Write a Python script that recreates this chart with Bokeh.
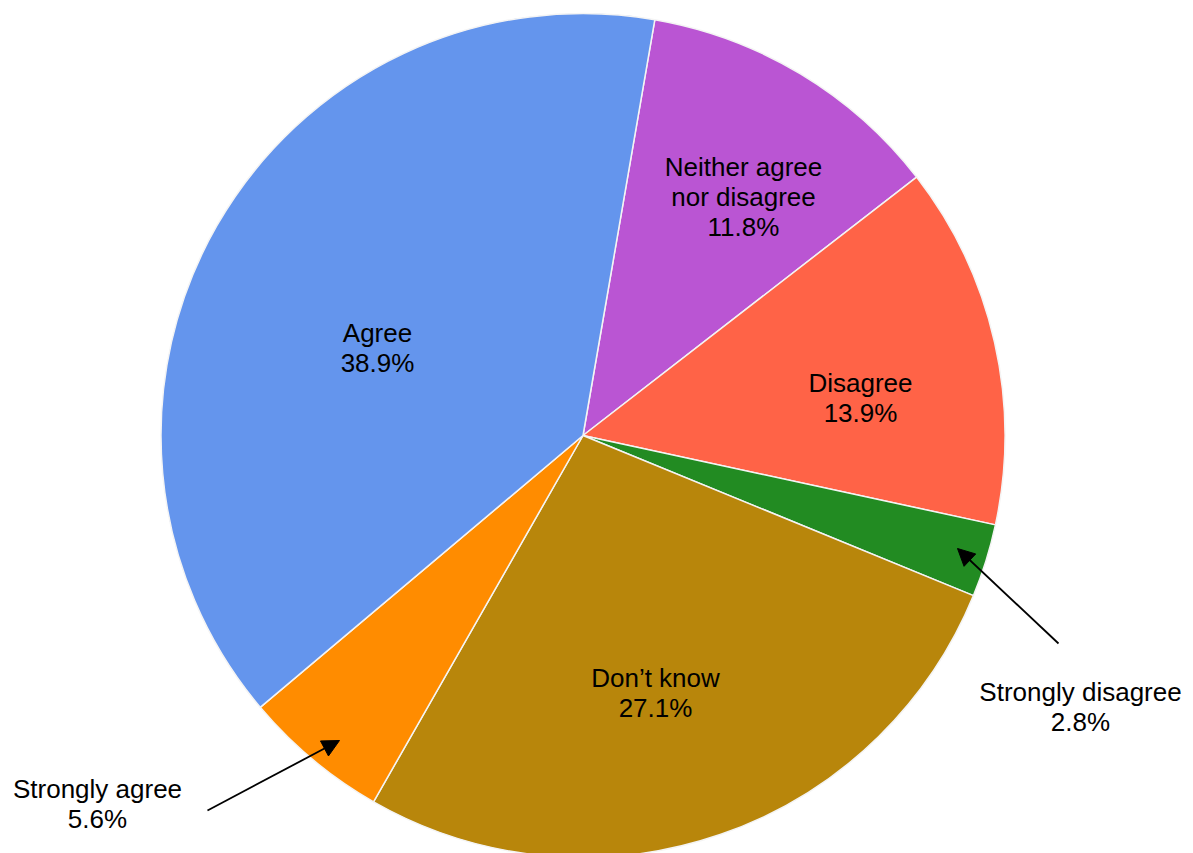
import numpy as np
from bokeh.plotting import figure
from bokeh.models import ColumnDataSource, Range1d, Arrow, NormalHead
from bokeh.core.properties import value
from bokeh.embed import file_html
from bokeh.resources import INLINE

# Data (clockwise from the top)
categories = ["Neither agree\nnor disagree", "Disagree", "Strongly disagree",
              "Don\u2019t know", "Strongly agree", "Agree"]
percents = [11.8, 13.9, 2.8, 27.1, 5.6, 38.9]
colors = ["#BA55D3", "#FF6347", "#228B22", "#B8860B", "#FF8C00", "#6495ED"]

W, H = 1193, 853
CX, CY = 582.5, 435.0      # pie centre in pixels (from top-left)
R = 422.0
START_DEG = 80.2           # first slice boundary, degrees CCW from +x

vals = np.array(percents, dtype=float)
frac = vals / vals.sum()
cum = np.concatenate([[0], np.cumsum(frac)])
start = np.deg2rad(START_DEG)
hi = start - 2 * np.pi * cum[:-1]
lo = start - 2 * np.pi * cum[1:]

src = ColumnDataSource(dict(x=[0.0] * len(vals), y=[0.0] * len(vals),
                            lo=lo, hi=hi, color=colors))

p = figure(width=W, height=H, output_backend="svg", toolbar_location=None,
           x_range=Range1d(-CX, W - CX), y_range=Range1d(-(H - CY), CY),
           min_border=0, min_border_left=0, min_border_right=0,
           min_border_top=0, min_border_bottom=0)
p.axis.visible = False
p.grid.visible = False
p.outline_line_color = None
p.background_fill_color = "white"

p.wedge(x="x", y="y", radius=R, start_angle="lo", end_angle="hi",
        direction="anticlock", fill_color="color", line_color="#F4F4F4",
        line_width=1.5, source=src)

# Labels: pixel positions (from top-left) converted to pie-centred coords
label_px = {
    "Agree": (377, 347),
    "Neither agree\nnor disagree": (743, 196),
    "Disagree": (860, 397),
    "Don\u2019t know": (655, 692),
    "Strongly disagree": (1080, 706),
    "Strongly agree": (97, 803),
}
lx, ly, lt = [], [], []
for c, v in zip(categories, percents):
    px, py = label_px[c]
    lx.append(px - CX)
    ly.append(CY - py)
    lt.append(f"{c}\n{v}%")

p.text(x=lx, y=ly, text=lt, text_align="center", text_baseline="middle",
       text_font=value("Liberation Sans"), text_font_size="26px",
       text_color="black", text_line_height=1.0)

arrows_px = [((1058, 643), (957, 548)), ((207, 810), (339, 740))]
for (x0, y0), (x1, y1) in arrows_px:
    p.add_layout(Arrow(x_start=x0 - CX, y_start=CY - y0, x_end=x1 - CX, y_end=CY - y1,
                       line_color="black", line_width=1.8,
                       end=NormalHead(size=17, fill_color="black", line_color="black")))

open("out.html", "w").write(file_html(p, INLINE))
